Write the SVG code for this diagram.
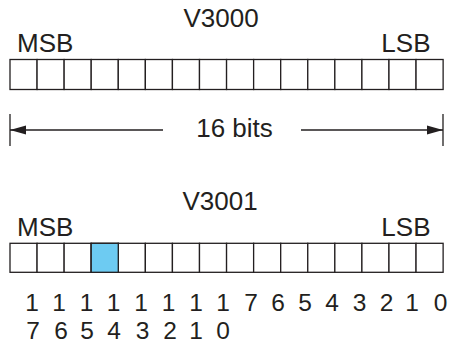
<svg xmlns="http://www.w3.org/2000/svg" width="449" height="341" viewBox="0 0 449 341">
<style>
.t{font-family:"Liberation Sans",Arial,sans-serif;font-size:26px;fill:#231f20}
.d{font-family:"Liberation Sans",Arial,sans-serif;font-size:24.5px;fill:#231f20;text-anchor:middle}
.c{fill:#fff;stroke:#231f20;stroke-width:1.3}
.b{fill:#6dcbf2}
.ln{stroke:#231f20;stroke-width:1.3;fill:none}
</style>
<defs>
<rect id="cell" class="c" width="27.07" height="30"/>
<rect id="cell2" class="c" width="27.07" height="29"/>
</defs>
<g id="v3000">
<text class="t" x="221" y="27.3" text-anchor="middle">V3000</text>
<text class="t" x="17" y="52.3">MSB</text>
<text class="t" x="430.5" y="52.3" text-anchor="end">LSB</text>
<g transform="translate(10,59.5)">
<use href="#cell" x="0"/><use href="#cell" x="27.07"/><use href="#cell" x="54.14"/><use href="#cell" x="81.21"/>
<use href="#cell" x="108.28"/><use href="#cell" x="135.35"/><use href="#cell" x="162.42"/><use href="#cell" x="189.49"/>
<use href="#cell" x="216.56"/><use href="#cell" x="243.63"/><use href="#cell" x="270.7"/><use href="#cell" x="297.77"/>
<use href="#cell" x="324.84"/><use href="#cell" x="351.91"/><use href="#cell" x="378.98"/><use href="#cell" x="406.05"/>
</g>
</g>
<g id="connectors">
<line class="ln" x1="10" y1="114" x2="10" y2="146"/>
<line class="ln" x1="443" y1="114" x2="443" y2="146"/>
<line class="ln" x1="10" y1="130" x2="163" y2="130"/>
<line class="ln" x1="301" y1="130" x2="443" y2="130"/>
<polygon points="10,130 26,125.5 26,134.5" fill="#231f20"/>
<polygon points="443,130 427,125.5 427,134.5" fill="#231f20"/>
</g>
<g id="width-label">
<text class="t" x="234.5" y="137" text-anchor="middle">16 bits</text>
</g>
<g id="v3001">
<text class="t" x="220" y="210" text-anchor="middle">V3001</text>
<text class="t" x="17" y="235.7">MSB</text>
<text class="t" x="430.5" y="235.7" text-anchor="end">LSB</text>
<g transform="translate(10,243.3)">
<use href="#cell2" x="0"/><use href="#cell2" x="27.07"/><use href="#cell2" x="54.14"/><use href="#cell2" x="81.21"/>
<use href="#cell2" x="108.28"/><use href="#cell2" x="135.35"/><use href="#cell2" x="162.42"/><use href="#cell2" x="189.49"/>
<use href="#cell2" x="216.56"/><use href="#cell2" x="243.63"/><use href="#cell2" x="270.7"/><use href="#cell2" x="297.77"/>
<use href="#cell2" x="324.84"/><use href="#cell2" x="351.91"/><use href="#cell2" x="378.98"/><use href="#cell2" x="406.05"/>
<rect class="c b" x="81.21" y="0" width="27.07" height="29"/>
</g>
</g>
<g id="bit-numbers">
<text class="d" x="32" y="311">1</text><text class="d" x="59" y="311">1</text><text class="d" x="86.5" y="311">1</text><text class="d" x="113.5" y="311">1</text>
<text class="d" x="141" y="311">1</text><text class="d" x="168.5" y="311">1</text><text class="d" x="196" y="311">1</text><text class="d" x="223" y="311">1</text>
<text class="d" x="251" y="311">7</text><text class="d" x="278" y="311">6</text><text class="d" x="305" y="311">5</text><text class="d" x="332" y="311">4</text>
<text class="d" x="359.5" y="311">3</text><text class="d" x="386.5" y="311">2</text><text class="d" x="412" y="311">1</text><text class="d" x="440.5" y="311">0</text>
<text class="d" x="33" y="338.5">7</text><text class="d" x="61" y="338.5">6</text><text class="d" x="87" y="338.5">5</text><text class="d" x="114" y="338.5">4</text>
<text class="d" x="142.5" y="338.5">3</text><text class="d" x="170" y="338.5">2</text><text class="d" x="196" y="338.5">1</text><text class="d" x="223" y="338.5">0</text>
</g>
</svg>
